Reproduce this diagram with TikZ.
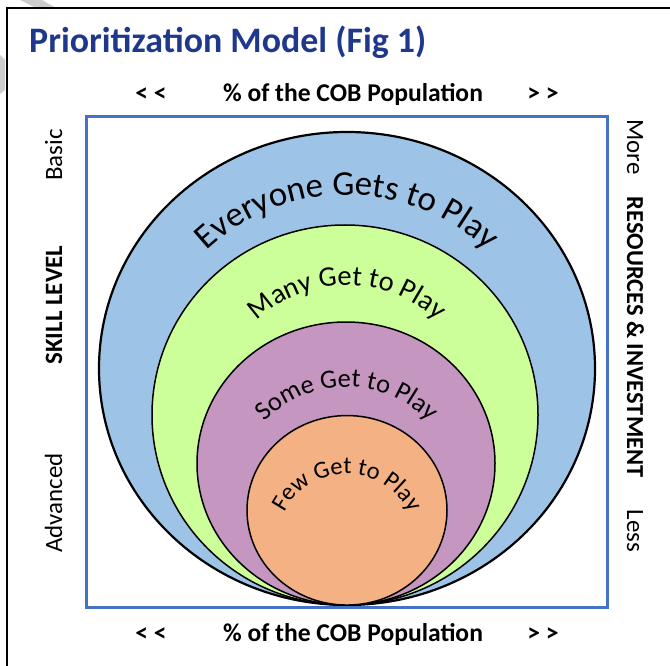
\documentclass[tikz,border=0pt]{standalone}
\usepackage{fontspec}
\setmainfont{Carlito}
\usetikzlibrary{decorations.text,shapes.geometric}
\definecolor{titleblue}{RGB}{31,56,140}
\definecolor{rectblue}{RGB}{68,114,196}
\definecolor{cblue}{RGB}{157,195,230}
\definecolor{cgreen}{RGB}{204,255,153}
\definecolor{cpurple}{RGB}{196,150,192}
\definecolor{corange}{RGB}{244,177,131}
\definecolor{smudge}{RGB}{205,205,205}
\newcommand\fsEvery{\fontsize{35}{35}\selectfont}
\newcommand\fsMany{\fontsize{28.5}{28.5}\selectfont}
\newcommand\fsSome{\fontsize{26.5}{26.5}\selectfont}
\newcommand\fsFew{\fontsize{24.5}{24.5}\selectfont}
\begin{document}
\begin{tikzpicture}[x=1bp,y=1bp,
  ring/.style={ellipse, draw=black, inner sep=0pt, outer sep=0pt, line width=1.5bp},
  axislab/.style={inner sep=0pt, font=\fontsize{25.7}{26}\selectfont\bfseries},
  sidelab/.style={inner sep=0pt, font=\fontsize{25}{26}\selectfont},
  sidebold/.style={inner sep=0pt, font=\fontsize{25}{26}\selectfont\bfseries},
  arctext/.style={decorate, decoration={text along path, text align=center, text={#1}}}]
\useasboundingbox (0,0) rectangle (670,-666);
\fill[white] (0,0) rectangle (670,-666);
% page smudges
\fill[smudge] (20,0) -- (42,0) -- (56,-8) -- (36,-8) -- cycle;
\fill[smudge] (0,-55) -- (5,-60) -- (5,-90) -- (0,-94) -- cycle;
% frame
\draw[line width=2bp] (7,-666) -- (7,-8) -- (670,-8);
% title
\node[anchor=base west, inner sep=0pt, text=titleblue,
      font=\fontsize{36}{36}\selectfont\bfseries] (title) at (29,-53) {Prioritization Model (Fig 1)};
% axis labels top
\node[axislab, anchor=base] (tl) at (151,-102) {< <};
\node[axislab, anchor=base] (tm) at (353,-102) {\% of the COB Population};
\node[axislab, anchor=base] (tr) at (543,-102) {> >};
% axis labels bottom
\node[axislab, anchor=base] (bl) at (151,-641) {< <};
\node[axislab, anchor=base] (bm) at (353,-641) {\% of the COB Population};
\node[axislab, anchor=base] (br) at (543,-641) {> >};
% left labels
\node[sidelab, anchor=base, rotate=90] (basic) at (62,-155) {Basic};
\node[sidebold, anchor=base, rotate=90] (skill) at (62,-305) {SKILL LEVEL};
\node[sidelab, anchor=base, rotate=90] (adv) at (62,-503) {Advanced};
% right labels
\node[sidelab, anchor=base, rotate=-90] (more) at (627,-147) {More};
\node[sidebold, anchor=base, rotate=-90, font=\fontsize{24.5}{26}\selectfont\bfseries] (res) at (627,-337) {RESOURCES \& INVESTMENT};
\node[sidelab, anchor=base, rotate=-90] (less) at (627,-531) {Less};
% rings
\node[ring, fill=cblue, line width=2.2bp, minimum width=496bp, minimum height=473bp] (blue) at (347,-368.5) {};
\node[ring, fill=cgreen, minimum width=386bp, minimum height=380bp] (green) at (345,-415) {};
\node[ring, fill=cpurple, minimum width=298bp, minimum height=283bp] (purple) at (346,-463.5) {};
\node[ring, fill=corange, minimum width=200bp, minimum height=189.5bp] (orange) at (347,-510.3) {};
% curved texts
\path[arctext={|\fsEvery|Everyone Gets to Play}] (347,-400) ++(179:205bp) arc[start angle=179, end angle=1, radius=205bp];
\path[arctext={|\fsMany|Many Get to Play}] (347,-415) ++(179:130bp) arc[start angle=179, end angle=1, radius=130bp];
\path[arctext={|\fsSome|Some Get to Play}] (347,-502) ++(179:115bp) arc[start angle=179, end angle=1, radius=115bp];
\path[arctext={|\fsFew|Few Get to Play}] (347,-544) ++(179:70bp) arc[start angle=179, end angle=1, radius=70bp];
% frame rectangle
\draw[rectblue, line width=3bp] (86,-117) rectangle (607,-607);
\end{tikzpicture}
\end{document}
